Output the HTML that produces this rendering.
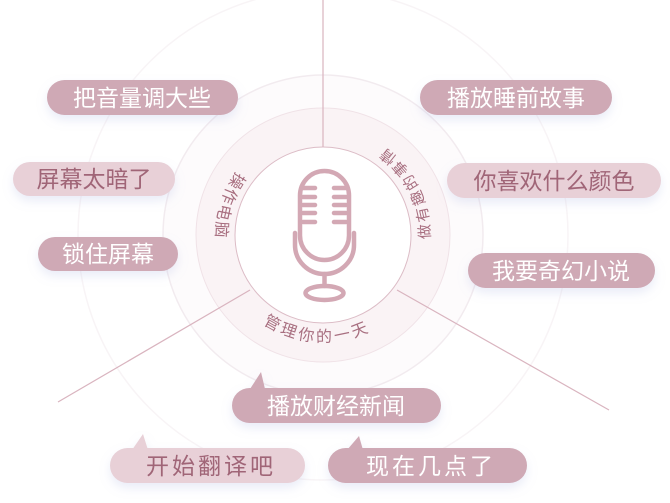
<!DOCTYPE html>
<html><head><meta charset="utf-8"><style>
html,body{margin:0;padding:0;background:#fff;}
svg{display:block;}
.cn{font-family:"Liberation Sans","Noto Sans CJK SC",sans-serif;}
</style></head><body>
<svg width="670" height="503" viewBox="0 0 670 503" xmlns="http://www.w3.org/2000/svg" class="cn">
<defs>
<filter id="sh" x="-20%" y="-40%" width="140%" height="200%"><feDropShadow dx="0" dy="5" stdDeviation="5" flood-color="#aab4e0" flood-opacity="0.25"/></filter>
</defs>
<rect width="670" height="503" fill="#fff"/>
<circle cx="323" cy="235" r="245" fill="none" stroke="#f8f4f6" stroke-width="1.5"/>
<circle cx="323" cy="235" r="160" fill="#fdfbfc" stroke="#f2ebef" stroke-width="1.5"/>
<circle cx="323" cy="235" r="127" fill="#faf3f5" stroke="#f0e2e7" stroke-width="1"/>
<circle cx="323" cy="235" r="88" fill="#fff" stroke="#dcbcc6" stroke-width="1"/>
<line x1="323" y1="0" x2="323" y2="147" stroke="#d9b4bf" stroke-width="1.2"/>
<line x1="250" y1="290" x2="58" y2="402" stroke="#d9b4bf" stroke-width="1.2"/>
<line x1="397" y1="290" x2="609" y2="410" stroke="#d9b4bf" stroke-width="1.2"/>
<path id="ring" d="M323,128 A107,107 0 1 0 323,342 A107,107 0 1 0 323,128" fill="none"/>
<g fill="#a86f80">
<text font-size="16" letter-spacing="2"><textPath href="#ring" startOffset="100">操作电脑</textPath></text>
<text font-size="16" letter-spacing="3"><textPath href="#ring" startOffset="272">管理你的一天</textPath></text>
<text font-size="15" letter-spacing="3"><textPath href="#ring" startOffset="500">做有趣的事情</textPath></text>
</g>
<g fill="none" stroke="#d3a8b4" stroke-width="4.5" stroke-linecap="round">
<rect x="300" y="171" width="49" height="89" rx="24.5"/>
<path d="M295,233 L295,245 A29.5,29 0 0 0 354,245 L354,233"/>
<line x1="324.5" y1="274" x2="324.5" y2="286"/>
<ellipse cx="324.5" cy="293" rx="19" ry="7"/>
<path d="M303,188 H315 M334,188 H346 M303,197 H315 M334,197 H346 M303,205 H315 M334,205 H346 M303,213 H315 M334,213 H346 M303,222 H315 M334,222 H346"/>
</g>
<g filter="url(#sh)">
<rect x="47" y="80" width="191" height="35" rx="17.5" fill="#cfa9b5"/>
<rect x="13" y="162" width="162" height="34" rx="17" fill="#e8d0d7"/>
<rect x="38" y="237" width="140" height="34" rx="17" fill="#cfa9b5"/>
<rect x="420" y="80" width="192" height="35" rx="17.5" fill="#cfa9b5"/>
<rect x="447" y="163" width="214" height="35" rx="17.5" fill="#e8d0d7"/>
<rect x="468" y="253" width="187" height="35" rx="17.5" fill="#cfa9b5"/>
<path d="M250,389 L261,372 L265,389 Z" fill="#cfa9b5"/>
<rect x="232" y="388" width="209" height="35" rx="17.5" fill="#cfa9b5"/>
<path d="M132,450 L143,434 L148,450 Z" fill="#e8d0d7"/>
<rect x="110" y="448" width="195" height="35" rx="17.5" fill="#e8d0d7"/>
<path d="M347,450 L359,436 L363,450 Z" fill="#cfa9b5"/>
<rect x="328" y="448" width="199" height="35" rx="17.5" fill="#cfa9b5"/>
</g>
<g font-size="23" text-anchor="middle" dominant-baseline="central">
<text x="142" y="98" fill="#fff">把音量调大些</text>
<text x="94" y="179" fill="#a06577">屏幕太暗了</text>
<text x="108" y="254" fill="#fff">锁住屏幕</text>
<text x="516" y="98" fill="#fff">播放睡前故事</text>
<text x="554" y="181" fill="#a06577">你喜欢什么颜色</text>
<text x="561" y="271" fill="#fff">我要奇幻小说</text>
<text x="336" y="406" fill="#fff">播放财经新闻</text>
<text x="211" y="466" fill="#a06577" letter-spacing="3">开始翻译吧</text>
<text x="431" y="466" fill="#fff" letter-spacing="3">现在几点了</text>
</g>
</svg>
</body></html>
